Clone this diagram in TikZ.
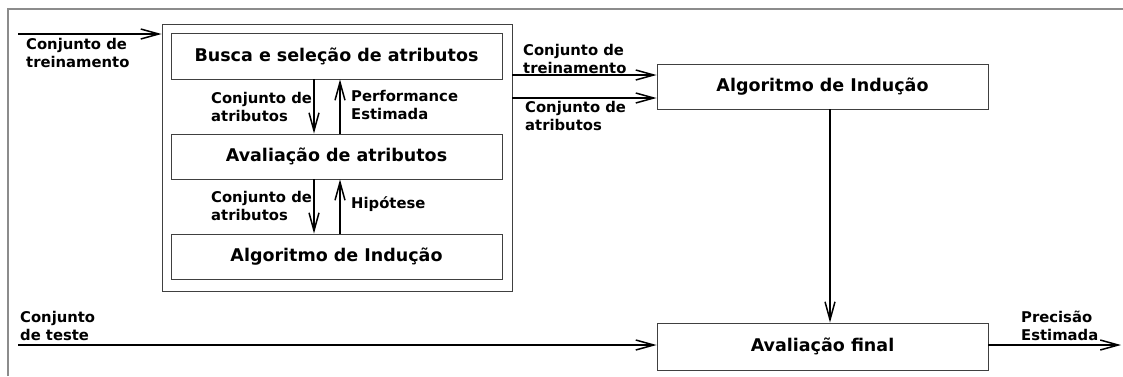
\documentclass[tikz,border=0pt]{standalone}
\usepackage{fontspec}
\setmainfont{DejaVu Sans}
\usetikzlibrary{arrows.meta}
\begin{document}
\begin{tikzpicture}[x=1pt,y=-1pt,
  box/.style={draw=black!75,line width=0.9pt,minimum width=331pt,inner sep=0pt,font=\fontsize{17.5}{20}\bfseries\selectfont},
  lbl/.style={anchor=west,inner sep=0pt,align=left,font=\fontsize{14.8}{17.5}\bfseries\selectfont},
  conn/.style={line width=1.6pt,-{Straight Barb[length=18pt,width=10pt,line width=1.5pt]}},
  plain/.style={line width=1.6pt}]
\useasboundingbox (0,0) rectangle (1123,376);
% outer frame (cropped)
\draw[black!45,line width=1.5pt] (8,376) -- (8,9) -- (1123,9);
% enclosing box
\node[draw=black!75,line width=0.9pt,minimum width=350pt,minimum height=267pt] (outer) at (337,157.5) {};
\node[box,minimum height=46pt] (bs) at (336.5,56) {Busca e seleção de atributos};
\node[box,minimum height=45pt] (av) at (336.5,156.5) {Avaliação de atributos};
\node[box,minimum height=45pt] (ai) at (336.5,256.5) {Algoritmo de Indução};
\node[box,minimum height=45pt] (rb) at (822.5,86.5) {Algoritmo de Indução};
\node[box,minimum height=47pt] (fin) at (822.5,346.5) {Avaliação final};
% helper coordinates
\coordinate (xd) at (314,0);
\coordinate (xu) at (340,0);
\coordinate (in1) at (18,34);
\coordinate (ya) at (0,75);
\coordinate (yb) at (0,98);
\coordinate (xv) at (830,0);
\coordinate (in2) at (18,345);
\coordinate (out) at (1121,345);
% connectors
\draw[conn] (in1) -- (in1 -| outer.west);
\draw[conn] (bs.south -| xd) -- (av.north -| xd);
\draw[conn] (av.north -| xu) -- (bs.south -| xu);
\draw[conn] (av.south -| xd) -- (ai.north -| xd);
\draw[conn] (ai.north -| xu) -- (av.south -| xu);
\draw[conn] (outer.east |- ya) -- (rb.west |- ya);
\draw[conn] (outer.east |- yb) -- (rb.west |- yb);
\draw[conn] (rb.south -| xv) -- (fin.north -| xv);
\draw[conn] (in2) -- (fin.west |- in2);
\draw[conn] (fin.east |- out) -- (out);
% labels
\node[lbl] (l1) at (26,53) {Conjunto de\\treinamento};
\node[lbl] (l2) at (211,107) {Conjunto de\\atributos};
\node[lbl] (l3) at (351,105) {Performance\\Estimada};
\node[lbl] (l4) at (211,206) {Conjunto de\\atributos};
\node[lbl] (l5) at (351,204) {Hipótese};
\node[lbl] (l6) at (523,59) {Conjunto de\\treinamento};
\node[lbl] (l7) at (525,116) {Conjunto de\\atributos};
\node[lbl] (l8) at (20,326) {Conjunto\\de teste};
\node[lbl] (l9) at (1021,326) {Precisão\\Estimada};
\end{tikzpicture}
\end{document}
